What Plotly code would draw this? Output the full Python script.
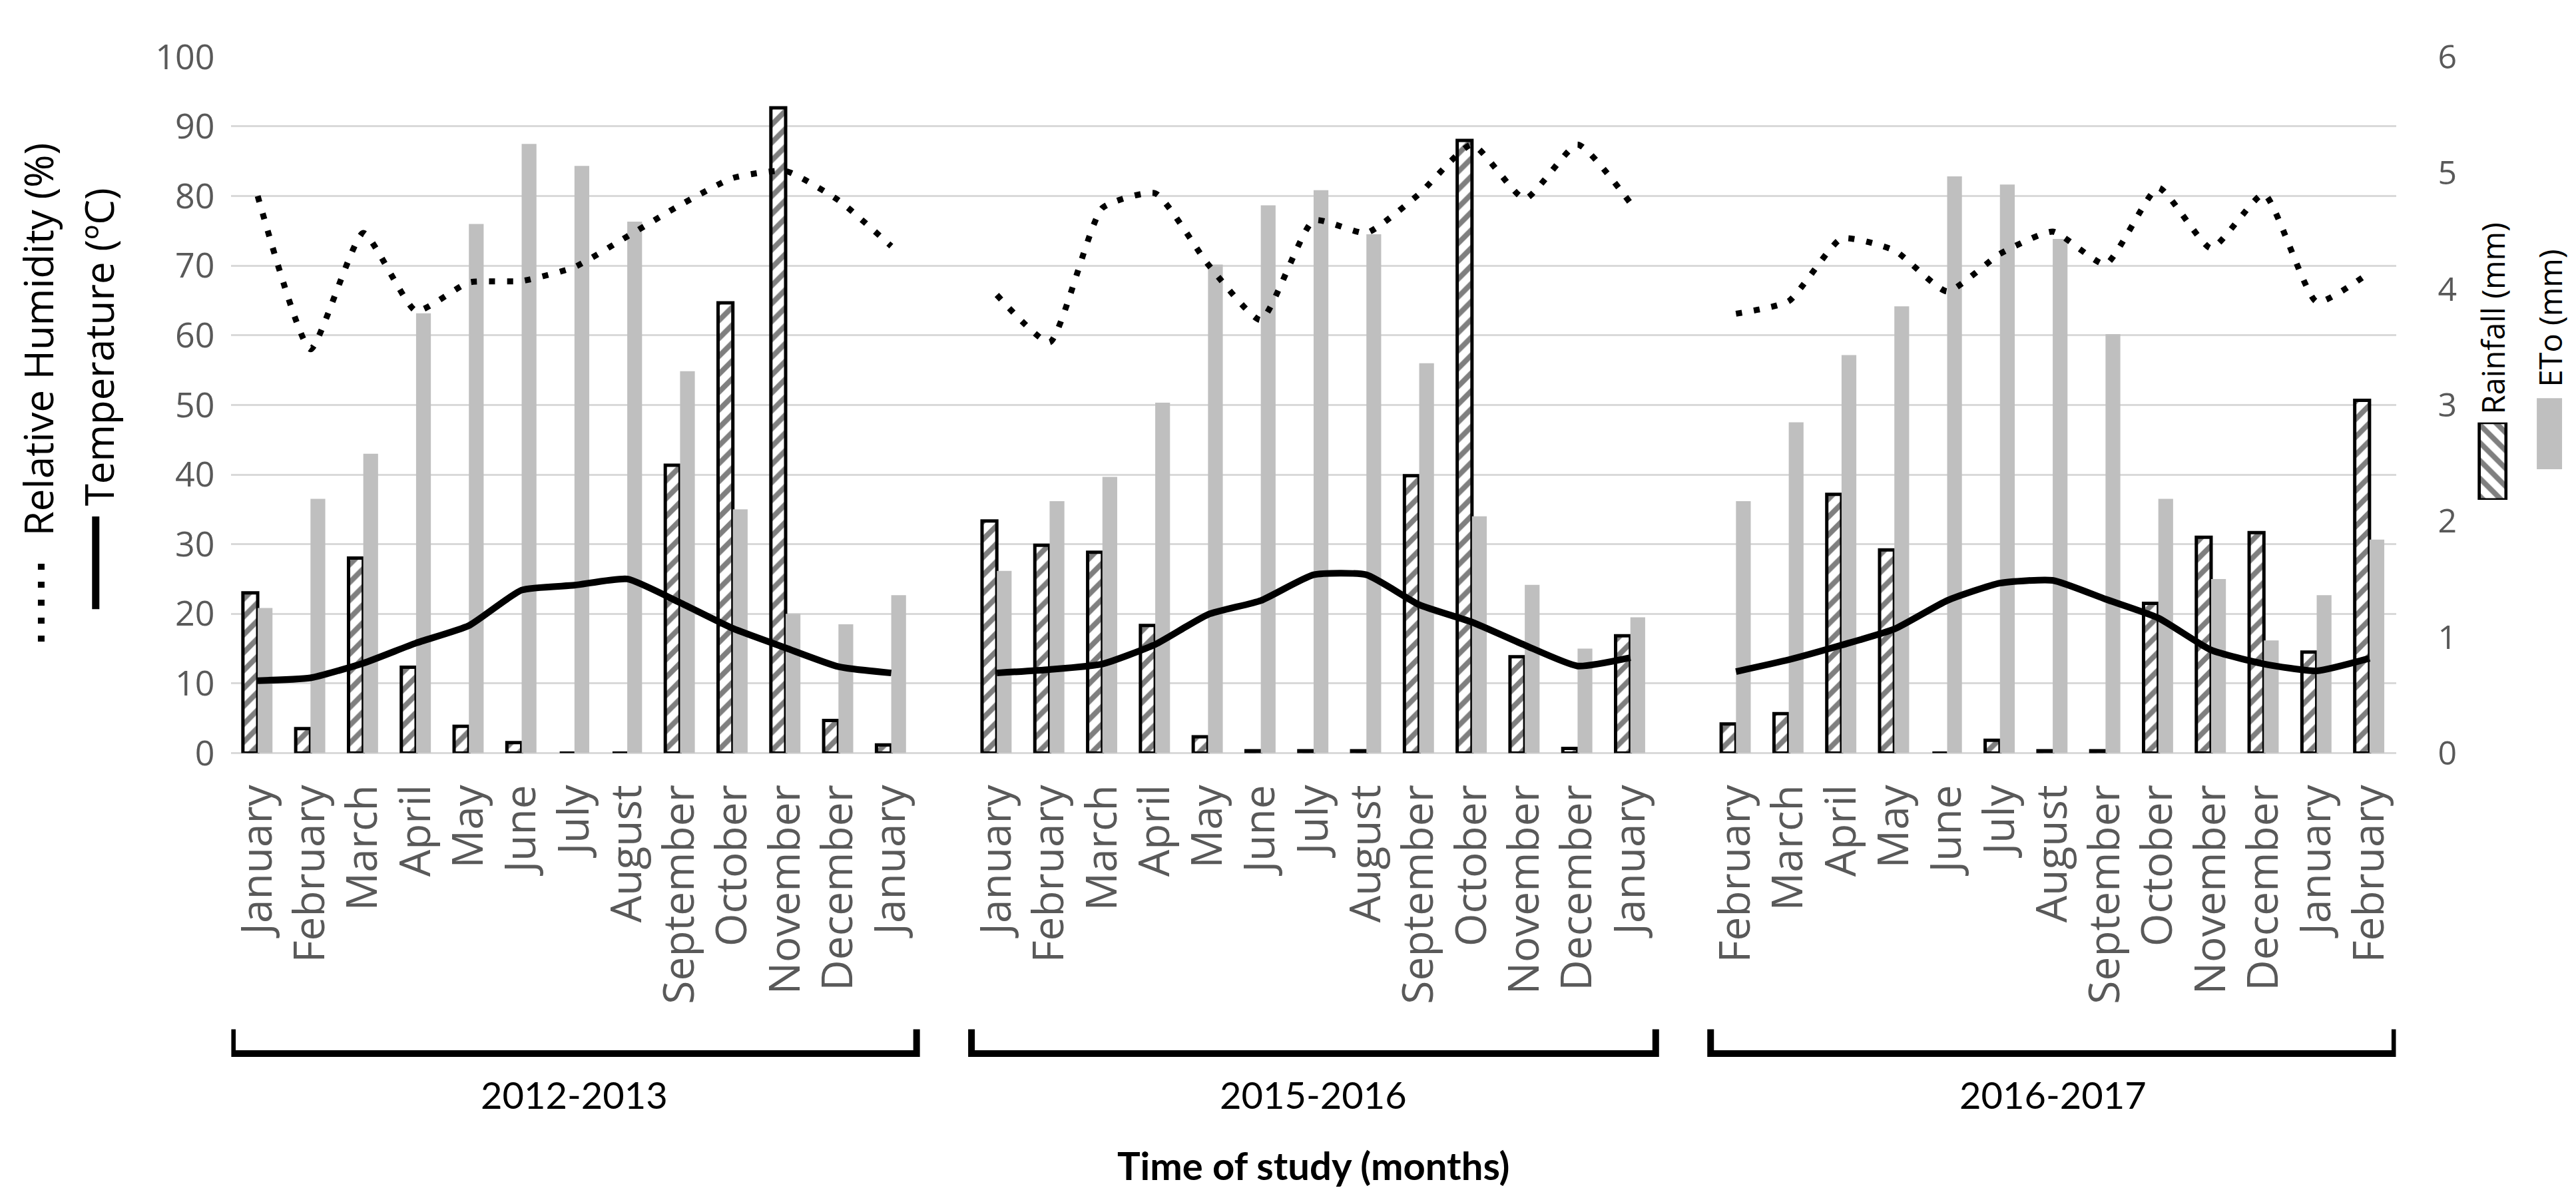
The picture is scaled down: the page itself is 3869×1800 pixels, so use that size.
import plotly.graph_objects as go

W, H = 3869, 1800

# ---------------- data ----------------
periods = ["2012-2013", "2015-2016", "2016-2017"]

months_2012_2013 = ["January", "February", "March", "April", "May", "June", "July",
                    "August", "September", "October", "November", "December", "January"]
months_2015_2016 = ["January", "February", "March", "April", "May", "June", "July",
                    "August", "September", "October", "November", "December", "January"]
months_2016_2017 = ["February", "March", "April", "May", "June", "July", "August",
                    "September", "October", "November", "December", "January", "February"]

rain_2012_2013 = [1.38, 0.21, 1.68, 0.74, 0.23, 0.09, 0.0, 0.0, 2.48, 3.88, 5.56, 0.28, 0.07]
eto_2012_2013 = [1.25, 2.19, 2.58, 3.79, 4.56, 5.25, 5.06, 4.58, 3.29, 2.10, 1.20, 1.11, 1.36]
temp_2012_2013 = [10.4, 10.8, 12.9, 15.8, 18.3, 23.4, 24.1, 25.0, 21.6, 17.9, 15.1, 12.4, 11.5]
rh_2012_2013 = [80.0, 58.0, 74.7, 63.5, 67.6, 67.8, 69.8, 74.2, 78.7, 82.6, 83.6, 79.4, 72.8]

rain_2015_2016 = [2.00, 1.79, 1.73, 1.10, 0.14, 0.02, 0.02, 0.02, 2.39, 5.28, 0.83, 0.04, 1.01]
eto_2015_2016 = [1.57, 2.17, 2.38, 3.02, 4.21, 4.72, 4.85, 4.47, 3.36, 2.04, 1.45, 0.90, 1.17]
temp_2015_2016 = [11.5, 12.0, 12.8, 15.6, 19.9, 21.9, 25.6, 25.6, 21.3, 18.8, 15.5, 12.5, 13.7]
rh_2015_2016 = [65.8, 59.0, 78.3, 80.4, 70.2, 62.2, 76.5, 74.7, 80.3, 87.4, 79.6, 87.4, 79.0]

rain_2016_2017 = [0.25, 0.34, 2.23, 1.75, 0.0, 0.11, 0.02, 0.02, 1.29, 1.86, 1.90, 0.87, 3.04]
eto_2016_2017 = [2.17, 2.85, 3.43, 3.85, 4.97, 4.90, 4.43, 3.61, 2.19, 1.50, 0.97, 1.36, 1.84]
temp_2016_2017 = [11.7, 13.4, 15.5, 17.8, 21.9, 24.4, 24.8, 22.1, 19.4, 14.8, 12.8, 11.8, 13.6]
rh_2016_2017 = [63.1, 64.9, 73.9, 72.2, 66.3, 71.7, 74.9, 70.2, 81.2, 72.5, 80.3, 64.8, 69.0]

groups = [
    (months_2012_2013, rain_2012_2013, eto_2012_2013, temp_2012_2013, rh_2012_2013),
    (months_2015_2016, rain_2015_2016, eto_2015_2016, temp_2015_2016, rh_2015_2016),
    (months_2016_2017, rain_2016_2017, eto_2016_2017, temp_2016_2017, rh_2016_2017),
]

# ---------------- build positions (one empty slot between periods) ----------------
step = len(months_2012_2013) + 1
xb, rain, eto = [], [], []
xl, temp, rh = [], [], []
tickvals, ticktext = [], []
group_ranges = []
for g, (mo, ra, et, te, hu) in enumerate(groups):
    xs = [g * step + i for i in range(len(mo))]
    group_ranges.append((xs[0], xs[-1]))
    xb += xs
    rain += ra
    eto += et
    xl += xs + [None]
    temp += te + [None]
    rh += hu + [None]
    tickvals += xs
    ticktext += mo
x_max = group_ranges[-1][1] + 0.5

# ---------------- layout helpers ----------------
L, R, T, B = 333, 3590, 41, 1130


def px(x):
    return x / W


def py(y):
    return 1 - y / H


TICK_FONT = dict(family="Open Sans", size=50, color="#595959")
HATCH = dict(shape="/", fgcolor="black", bgcolor="white", size=19, solidity=0.42)
DOTS = "9px,18px"

fig = go.Figure()

fig.add_trace(go.Bar(
    x=xb, y=rain, name="Rainfall (mm)", xaxis="x", yaxis="y",
    marker=dict(color="white", line=dict(color="black", width=5), pattern=HATCH),
    showlegend=False,
))
fig.add_trace(go.Bar(
    x=xb, y=eto, name="ETo (mm)", xaxis="x", yaxis="y",
    marker=dict(color="#BFBFBF", line=dict(width=0)),
    showlegend=False,
))
fig.add_trace(go.Scatter(
    x=xl, y=rh, name="Relative Humidity (%)", xaxis="x", yaxis="y2", mode="lines",
    line=dict(color="black", width=9, dash=DOTS, shape="spline", smoothing=0.5),
    connectgaps=False, showlegend=False,
))
fig.add_trace(go.Scatter(
    x=xl, y=temp, name="Temperature (ºC)", xaxis="x", yaxis="y2", mode="lines",
    line=dict(color="black", width=10, shape="spline", smoothing=0.5),
    connectgaps=False, showlegend=False,
))

# legend swatch for hatched rainfall (pattern drawn by the library)
sw_x0, sw_x1, sw_y0, sw_y1 = 3713, 3758, 613, 734
fig.add_trace(go.Bar(
    x=[0], y=[1], width=[0.9], xaxis="x3", yaxis="y3",
    marker=dict(color="white", line=dict(color="black", width=5),
                pattern=dict(shape="\\", fgcolor="black", bgcolor="white", size=19, solidity=0.42)),
    showlegend=False, hoverinfo="skip",
))

fig.update_layout(
    width=W, height=H,
    margin=dict(l=0, r=0, t=0, b=0),
    paper_bgcolor="white", plot_bgcolor="white",
    barmode="group", bargap=0.44, bargroupgap=0.0,
    xaxis=dict(
        domain=[px(L), px(R)], range=[-0.5, x_max],
        tickmode="array", tickvals=tickvals, ticktext=ticktext, tickangle=-90,
        tickfont=dict(family="Open Sans", size=64, color="#595959"),
        showgrid=False, zeroline=False, showline=False, ticks="",
        ticklabelstandoff=34, anchor="y",
    ),
    yaxis=dict(
        domain=[py(B), py(T)], range=[0, 6], dtick=1, side="right",
        tickfont=TICK_FONT, showgrid=False, zeroline=False, showline=False, ticks="",
        ticklabelstandoff=62, anchor="x",
    ),
    yaxis2=dict(
        range=[0, 100], dtick=10, side="left", overlaying="y", anchor="x",
        tickfont=dict(family="Open Sans", size=52, color="#595959"),
        showgrid=True, gridcolor="#D9D9D9", gridwidth=3,
        zeroline=True, zerolinecolor="#D9D9D9", zerolinewidth=3,
        showline=False, ticks="", ticklabelstandoff=24,
    ),
    xaxis3=dict(domain=[px(sw_x0), px(sw_x1)], range=[-0.5, 0.5], visible=False,
                anchor="y3", fixedrange=True),
    yaxis3=dict(domain=[py(sw_y1), py(sw_y0)], range=[0, 1], visible=False,
                anchor="x3", fixedrange=True),
)

shapes = []
annotations = []

# brackets and period labels
for g, (a, b) in enumerate(group_ranges):
    x0, x1 = a - 0.48, b + 0.48
    shapes.append(dict(
        type="path", xref="x", yref="paper",
        path=f"M {x0},{py(1562)} L {x0},{py(1600)} L {x1},{py(1600)} L {x1},{py(1562)}",
        line=dict(color="black", width=10),
    ))
    annotations.append(dict(
        text=periods[g], x=(a + b) / 2, xref="x", y=py(1664), yref="paper",
        showarrow=False, xanchor="center", yanchor="middle",
        font=dict(family="Lato", size=56, color="black"),
    ))

# x-axis title
annotations.append(dict(
    text="Time of study (months)", x=px((L + R) / 2), xref="paper", y=py(1774), yref="paper",
    showarrow=False, xanchor="center", yanchor="middle",
    font=dict(family="Lato", size=58, color="black", weight="bold"),
))

# left legend (rotated)
shapes.append(dict(type="line", xref="paper", yref="paper",
                   x0=px(47), x1=px(47), y0=py(834), y1=py(962),
                   line=dict(color="black", width=10, dash=DOTS)))
annotations.append(dict(
    text="Relative Humidity (%)", x=px(42), xref="paper", y=py(792), yref="paper",
    textangle=-90, showarrow=False, xanchor="center", yanchor="bottom",
    font=dict(family="Open Sans", size=60, color="black"),
))
shapes.append(dict(type="line", xref="paper", yref="paper",
                   x0=px(129), x1=px(129), y0=py(760), y1=py(905),
                   line=dict(color="black", width=11)))
annotations.append(dict(
    text="Temperature (ºC)", x=px(133), xref="paper", y=py(746), yref="paper",
    textangle=-90, showarrow=False, xanchor="center", yanchor="bottom",
    font=dict(family="Open Sans", size=60, color="black"),
))

# right legend (rotated)
annotations.append(dict(
    text="Rainfall (mm)", x=px(3736), xref="paper", y=py(602), yref="paper",
    textangle=-90, showarrow=False, xanchor="center", yanchor="bottom",
    font=dict(family="Open Sans", size=47, color="black"),
))
shapes.append(dict(type="rect", xref="paper", yref="paper",
                   x0=px(3802), x1=px(3840), y0=py(686), y1=py(575),
                   fillcolor="#BFBFBF", line=dict(width=0)))
annotations.append(dict(
    text="ETo (mm)", x=px(3822), xref="paper", y=py(560), yref="paper",
    textangle=-90, showarrow=False, xanchor="center", yanchor="bottom",
    font=dict(family="Open Sans", size=47, color="black"),
))

fig.update_layout(shapes=shapes, annotations=annotations)

fig.write_html("out.html")
